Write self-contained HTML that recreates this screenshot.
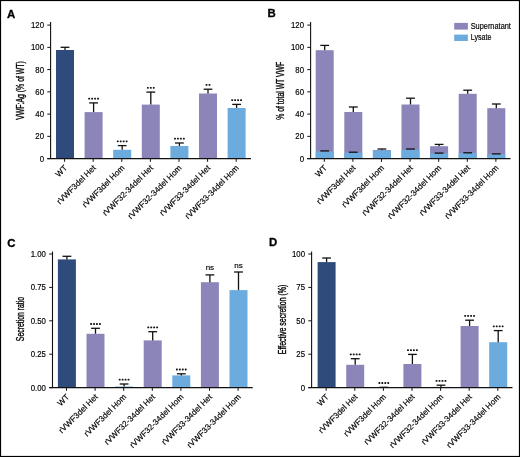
<!DOCTYPE html>
<html><head><meta charset="utf-8"><style>
html,body{margin:0;padding:0;background:#fff;}
body{width:520px;height:457px;overflow:hidden;}
svg{display:block;will-change:transform;}
.t{font-family:"Liberation Sans",sans-serif;fill:#000;stroke:#000;stroke-width:0.17px;}
.t.yl{stroke-width:0.35px;}
.t.lt{stroke-width:0.3px;}
.t.st{stroke-width:0.25px;}
</style></head><body>
<svg width="520" height="457" viewBox="0 0 520 457">
<rect x="0" y="0" width="520" height="457" fill="#fff"/>
<rect x="56.00" y="50.00" width="18.0" height="108.60" fill="#2E4B7C"/>
<line x1="65.00" x2="65.00" y1="47.30" y2="50.00" stroke="#111" stroke-width="1.3"/>
<line x1="60.60" x2="69.40" y1="47.30" y2="47.30" stroke="#111" stroke-width="1.3"/>
<line x1="64.60" x2="64.60" y1="158.60" y2="161.80" stroke="#111" stroke-width="1"/>
<text x="67.80" y="168.40" text-anchor="end" font-size="8.2" class="t" transform="rotate(-45 67.80 168.40)">WT</text>
<rect x="84.60" y="112.10" width="18.0" height="46.50" fill="#8B85BA"/>
<line x1="93.60" x2="93.60" y1="102.90" y2="112.10" stroke="#111" stroke-width="1.3"/>
<line x1="89.20" x2="98.00" y1="102.90" y2="102.90" stroke="#111" stroke-width="1.3"/>
<rect x="88.22" y="97.70" width="1.9" height="1.8" rx="0.6" fill="#111"/>
<rect x="91.17" y="97.70" width="1.9" height="1.8" rx="0.6" fill="#111"/>
<rect x="94.12" y="97.70" width="1.9" height="1.8" rx="0.6" fill="#111"/>
<rect x="97.07" y="97.70" width="1.9" height="1.8" rx="0.6" fill="#111"/>
<line x1="93.20" x2="93.20" y1="158.60" y2="161.80" stroke="#111" stroke-width="1"/>
<text x="96.40" y="168.40" text-anchor="end" font-size="8.2" class="t" transform="rotate(-45 96.40 168.40)">rVWF3del Het</text>
<rect x="113.20" y="149.80" width="18.0" height="8.80" fill="#6BABDE"/>
<line x1="122.20" x2="122.20" y1="145.60" y2="149.80" stroke="#111" stroke-width="1.3"/>
<line x1="117.80" x2="126.60" y1="145.60" y2="145.60" stroke="#111" stroke-width="1.3"/>
<rect x="116.83" y="140.40" width="1.9" height="1.8" rx="0.6" fill="#111"/>
<rect x="119.78" y="140.40" width="1.9" height="1.8" rx="0.6" fill="#111"/>
<rect x="122.72" y="140.40" width="1.9" height="1.8" rx="0.6" fill="#111"/>
<rect x="125.67" y="140.40" width="1.9" height="1.8" rx="0.6" fill="#111"/>
<line x1="121.80" x2="121.80" y1="158.60" y2="161.80" stroke="#111" stroke-width="1"/>
<text x="125.00" y="168.40" text-anchor="end" font-size="8.2" class="t" transform="rotate(-45 125.00 168.40)">rVWF3del Hom</text>
<rect x="141.80" y="104.60" width="18.0" height="54.00" fill="#8B85BA"/>
<line x1="150.80" x2="150.80" y1="92.10" y2="104.60" stroke="#111" stroke-width="1.3"/>
<line x1="146.40" x2="155.20" y1="92.10" y2="92.10" stroke="#111" stroke-width="1.3"/>
<rect x="146.90" y="86.90" width="1.9" height="1.8" rx="0.6" fill="#111"/>
<rect x="149.85" y="86.90" width="1.9" height="1.8" rx="0.6" fill="#111"/>
<rect x="152.80" y="86.90" width="1.9" height="1.8" rx="0.6" fill="#111"/>
<line x1="150.40" x2="150.40" y1="158.60" y2="161.80" stroke="#111" stroke-width="1"/>
<text x="153.60" y="168.40" text-anchor="end" font-size="8.2" class="t" transform="rotate(-45 153.60 168.40)">rVWF32-34del Het</text>
<rect x="170.40" y="146.00" width="18.0" height="12.60" fill="#6BABDE"/>
<line x1="179.40" x2="179.40" y1="143.00" y2="146.00" stroke="#111" stroke-width="1.3"/>
<line x1="175.00" x2="183.80" y1="143.00" y2="143.00" stroke="#111" stroke-width="1.3"/>
<rect x="174.03" y="137.80" width="1.9" height="1.8" rx="0.6" fill="#111"/>
<rect x="176.98" y="137.80" width="1.9" height="1.8" rx="0.6" fill="#111"/>
<rect x="179.93" y="137.80" width="1.9" height="1.8" rx="0.6" fill="#111"/>
<rect x="182.88" y="137.80" width="1.9" height="1.8" rx="0.6" fill="#111"/>
<line x1="179.00" x2="179.00" y1="158.60" y2="161.80" stroke="#111" stroke-width="1"/>
<text x="182.20" y="168.40" text-anchor="end" font-size="8.2" class="t" transform="rotate(-45 182.20 168.40)">rVWF32-34del Hom</text>
<rect x="199.00" y="93.50" width="18.0" height="65.10" fill="#8B85BA"/>
<line x1="208.00" x2="208.00" y1="89.20" y2="93.50" stroke="#111" stroke-width="1.3"/>
<line x1="203.60" x2="212.40" y1="89.20" y2="89.20" stroke="#111" stroke-width="1.3"/>
<rect x="205.58" y="84.00" width="1.9" height="1.8" rx="0.6" fill="#111"/>
<rect x="208.53" y="84.00" width="1.9" height="1.8" rx="0.6" fill="#111"/>
<line x1="207.60" x2="207.60" y1="158.60" y2="161.80" stroke="#111" stroke-width="1"/>
<text x="210.80" y="168.40" text-anchor="end" font-size="8.2" class="t" transform="rotate(-45 210.80 168.40)">rVWF33-34del Het</text>
<rect x="227.60" y="108.00" width="18.0" height="50.60" fill="#6BABDE"/>
<line x1="236.60" x2="236.60" y1="104.40" y2="108.00" stroke="#111" stroke-width="1.3"/>
<line x1="232.20" x2="241.00" y1="104.40" y2="104.40" stroke="#111" stroke-width="1.3"/>
<rect x="231.23" y="99.20" width="1.9" height="1.8" rx="0.6" fill="#111"/>
<rect x="234.18" y="99.20" width="1.9" height="1.8" rx="0.6" fill="#111"/>
<rect x="237.13" y="99.20" width="1.9" height="1.8" rx="0.6" fill="#111"/>
<rect x="240.08" y="99.20" width="1.9" height="1.8" rx="0.6" fill="#111"/>
<line x1="236.20" x2="236.20" y1="158.60" y2="161.80" stroke="#111" stroke-width="1"/>
<text x="239.40" y="168.40" text-anchor="end" font-size="8.2" class="t" transform="rotate(-45 239.40 168.40)">rVWF33-34del Hom</text>
<line x1="50.6" x2="50.6" y1="22" y2="159.1" stroke="#111" stroke-width="1.1"/>
<line x1="47.300000000000004" x2="251" y1="158.6" y2="158.6" stroke="#111" stroke-width="1.1"/>
<line x1="47.300000000000004" x2="50.6" y1="158.60" y2="158.60" stroke="#111" stroke-width="1"/>
<text x="0" y="0" text-anchor="end" font-size="8.5" class="t" transform="translate(44.00 161.60) scale(0.92 1)">0</text>
<line x1="47.300000000000004" x2="50.6" y1="136.35" y2="136.35" stroke="#111" stroke-width="1"/>
<text x="0" y="0" text-anchor="end" font-size="8.5" class="t" transform="translate(44.00 139.35) scale(0.92 1)">20</text>
<line x1="47.300000000000004" x2="50.6" y1="114.10" y2="114.10" stroke="#111" stroke-width="1"/>
<text x="0" y="0" text-anchor="end" font-size="8.5" class="t" transform="translate(44.00 117.10) scale(0.92 1)">40</text>
<line x1="47.300000000000004" x2="50.6" y1="91.85" y2="91.85" stroke="#111" stroke-width="1"/>
<text x="0" y="0" text-anchor="end" font-size="8.5" class="t" transform="translate(44.00 94.85) scale(0.92 1)">60</text>
<line x1="47.300000000000004" x2="50.6" y1="69.60" y2="69.60" stroke="#111" stroke-width="1"/>
<text x="0" y="0" text-anchor="end" font-size="8.5" class="t" transform="translate(44.00 72.60) scale(0.92 1)">80</text>
<line x1="47.300000000000004" x2="50.6" y1="47.35" y2="47.35" stroke="#111" stroke-width="1"/>
<text x="0" y="0" text-anchor="end" font-size="8.5" class="t" transform="translate(44.00 50.35) scale(0.92 1)">100</text>
<line x1="47.300000000000004" x2="50.6" y1="25.10" y2="25.10" stroke="#111" stroke-width="1"/>
<text x="0" y="0" text-anchor="end" font-size="8.5" class="t" transform="translate(44.00 28.10) scale(0.92 1)">120</text>
<text x="0" y="0" text-anchor="middle" font-size="10.1" class="t yl" transform="translate(24.00 90.50) rotate(-90) scale(0.6849 1)">VWF:Ag (% of WT)</text>
<text x="7.0" y="17.60" font-size="11.4" font-weight="bold" class="t lt">A</text>
<rect x="315.70" y="50.20" width="18.0" height="108.40" fill="#8B85BA"/>
<rect x="315.70" y="151.50" width="18.0" height="7.10" fill="#6BABDE"/>
<line x1="320.30" x2="329.10" y1="150.90" y2="150.90" stroke="#111" stroke-width="1.3"/>
<line x1="324.70" x2="324.70" y1="45.40" y2="50.20" stroke="#111" stroke-width="1.3"/>
<line x1="320.30" x2="329.10" y1="45.40" y2="45.40" stroke="#111" stroke-width="1.3"/>
<line x1="324.30" x2="324.30" y1="158.60" y2="161.80" stroke="#111" stroke-width="1"/>
<text x="327.50" y="168.40" text-anchor="end" font-size="8.2" class="t" transform="rotate(-45 327.50 168.40)">WT</text>
<rect x="344.30" y="112.00" width="18.0" height="46.60" fill="#8B85BA"/>
<rect x="344.30" y="152.50" width="18.0" height="6.10" fill="#6BABDE"/>
<line x1="348.90" x2="357.70" y1="152.20" y2="152.20" stroke="#111" stroke-width="1.3"/>
<line x1="353.30" x2="353.30" y1="107.00" y2="112.00" stroke="#111" stroke-width="1.3"/>
<line x1="348.90" x2="357.70" y1="107.00" y2="107.00" stroke="#111" stroke-width="1.3"/>
<line x1="352.90" x2="352.90" y1="158.60" y2="161.80" stroke="#111" stroke-width="1"/>
<text x="356.10" y="168.40" text-anchor="end" font-size="8.2" class="t" transform="rotate(-45 356.10 168.40)">rVWF3del Het</text>
<rect x="372.90" y="150.10" width="18.0" height="8.50" fill="#8B85BA"/>
<rect x="372.90" y="150.60" width="18.0" height="8.00" fill="#6BABDE"/>
<line x1="381.90" x2="381.90" y1="149.00" y2="150.10" stroke="#111" stroke-width="1.3"/>
<line x1="377.50" x2="386.30" y1="149.00" y2="149.00" stroke="#111" stroke-width="1.3"/>
<line x1="381.50" x2="381.50" y1="158.60" y2="161.80" stroke="#111" stroke-width="1"/>
<text x="384.70" y="168.40" text-anchor="end" font-size="8.2" class="t" transform="rotate(-45 384.70 168.40)">rVWF3del Hom</text>
<rect x="401.50" y="104.50" width="18.0" height="54.10" fill="#8B85BA"/>
<rect x="401.50" y="149.70" width="18.0" height="8.90" fill="#6BABDE"/>
<line x1="406.10" x2="414.90" y1="149.00" y2="149.00" stroke="#111" stroke-width="1.3"/>
<line x1="410.50" x2="410.50" y1="98.20" y2="104.50" stroke="#111" stroke-width="1.3"/>
<line x1="406.10" x2="414.90" y1="98.20" y2="98.20" stroke="#111" stroke-width="1.3"/>
<line x1="410.10" x2="410.10" y1="158.60" y2="161.80" stroke="#111" stroke-width="1"/>
<text x="413.30" y="168.40" text-anchor="end" font-size="8.2" class="t" transform="rotate(-45 413.30 168.40)">rVWF32-34del Het</text>
<rect x="430.10" y="146.20" width="18.0" height="12.40" fill="#8B85BA"/>
<rect x="430.10" y="153.40" width="18.0" height="5.20" fill="#6BABDE"/>
<line x1="434.70" x2="443.50" y1="153.10" y2="153.10" stroke="#111" stroke-width="1.3"/>
<line x1="439.10" x2="439.10" y1="144.40" y2="146.20" stroke="#111" stroke-width="1.3"/>
<line x1="434.70" x2="443.50" y1="144.40" y2="144.40" stroke="#111" stroke-width="1.3"/>
<line x1="438.70" x2="438.70" y1="158.60" y2="161.80" stroke="#111" stroke-width="1"/>
<text x="441.90" y="168.40" text-anchor="end" font-size="8.2" class="t" transform="rotate(-45 441.90 168.40)">rVWF32-34del Hom</text>
<rect x="458.70" y="93.80" width="18.0" height="64.80" fill="#8B85BA"/>
<rect x="458.70" y="153.00" width="18.0" height="5.60" fill="#6BABDE"/>
<line x1="463.30" x2="472.10" y1="152.80" y2="152.80" stroke="#111" stroke-width="1.3"/>
<line x1="467.70" x2="467.70" y1="90.20" y2="93.80" stroke="#111" stroke-width="1.3"/>
<line x1="463.30" x2="472.10" y1="90.20" y2="90.20" stroke="#111" stroke-width="1.3"/>
<line x1="467.30" x2="467.30" y1="158.60" y2="161.80" stroke="#111" stroke-width="1"/>
<text x="470.50" y="168.40" text-anchor="end" font-size="8.2" class="t" transform="rotate(-45 470.50 168.40)">rVWF33-34del Het</text>
<rect x="487.30" y="108.20" width="18.0" height="50.40" fill="#8B85BA"/>
<rect x="487.30" y="154.30" width="18.0" height="4.30" fill="#6BABDE"/>
<line x1="491.90" x2="500.70" y1="153.90" y2="153.90" stroke="#111" stroke-width="1.3"/>
<line x1="496.30" x2="496.30" y1="104.00" y2="108.20" stroke="#111" stroke-width="1.3"/>
<line x1="491.90" x2="500.70" y1="104.00" y2="104.00" stroke="#111" stroke-width="1.3"/>
<line x1="495.90" x2="495.90" y1="158.60" y2="161.80" stroke="#111" stroke-width="1"/>
<text x="499.10" y="168.40" text-anchor="end" font-size="8.2" class="t" transform="rotate(-45 499.10 168.40)">rVWF33-34del Hom</text>
<line x1="310.6" x2="310.6" y1="22" y2="159.1" stroke="#111" stroke-width="1.1"/>
<line x1="307.3" x2="510.5" y1="158.6" y2="158.6" stroke="#111" stroke-width="1.1"/>
<line x1="307.3" x2="310.6" y1="158.60" y2="158.60" stroke="#111" stroke-width="1"/>
<text x="0" y="0" text-anchor="end" font-size="8.5" class="t" transform="translate(304.00 161.60) scale(0.92 1)">0</text>
<line x1="307.3" x2="310.6" y1="136.35" y2="136.35" stroke="#111" stroke-width="1"/>
<text x="0" y="0" text-anchor="end" font-size="8.5" class="t" transform="translate(304.00 139.35) scale(0.92 1)">20</text>
<line x1="307.3" x2="310.6" y1="114.10" y2="114.10" stroke="#111" stroke-width="1"/>
<text x="0" y="0" text-anchor="end" font-size="8.5" class="t" transform="translate(304.00 117.10) scale(0.92 1)">40</text>
<line x1="307.3" x2="310.6" y1="91.85" y2="91.85" stroke="#111" stroke-width="1"/>
<text x="0" y="0" text-anchor="end" font-size="8.5" class="t" transform="translate(304.00 94.85) scale(0.92 1)">60</text>
<line x1="307.3" x2="310.6" y1="69.60" y2="69.60" stroke="#111" stroke-width="1"/>
<text x="0" y="0" text-anchor="end" font-size="8.5" class="t" transform="translate(304.00 72.60) scale(0.92 1)">80</text>
<line x1="307.3" x2="310.6" y1="47.35" y2="47.35" stroke="#111" stroke-width="1"/>
<text x="0" y="0" text-anchor="end" font-size="8.5" class="t" transform="translate(304.00 50.35) scale(0.92 1)">100</text>
<line x1="307.3" x2="310.6" y1="25.10" y2="25.10" stroke="#111" stroke-width="1"/>
<text x="0" y="0" text-anchor="end" font-size="8.5" class="t" transform="translate(304.00 28.10) scale(0.92 1)">120</text>
<text x="0" y="0" text-anchor="middle" font-size="10.1" class="t yl" transform="translate(284.00 90.75) rotate(-90) scale(0.6781 1)">% of total WT VWF</text>
<text x="267.4" y="17.20" font-size="11.4" font-weight="bold" class="t lt">B</text>
<rect x="57.90" y="259.40" width="18.0" height="128.20" fill="#2E4B7C"/>
<line x1="66.90" x2="66.90" y1="256.30" y2="259.40" stroke="#111" stroke-width="1.3"/>
<line x1="62.50" x2="71.30" y1="256.30" y2="256.30" stroke="#111" stroke-width="1.3"/>
<line x1="66.50" x2="66.50" y1="387.60" y2="390.80" stroke="#111" stroke-width="1"/>
<text x="69.70" y="397.40" text-anchor="end" font-size="8.2" class="t" transform="rotate(-45 69.70 397.40)">WT</text>
<rect x="86.50" y="333.80" width="18.0" height="53.80" fill="#8B85BA"/>
<line x1="95.50" x2="95.50" y1="328.30" y2="333.80" stroke="#111" stroke-width="1.3"/>
<line x1="91.10" x2="99.90" y1="328.30" y2="328.30" stroke="#111" stroke-width="1.3"/>
<rect x="90.12" y="323.10" width="1.9" height="1.8" rx="0.6" fill="#111"/>
<rect x="93.08" y="323.10" width="1.9" height="1.8" rx="0.6" fill="#111"/>
<rect x="96.02" y="323.10" width="1.9" height="1.8" rx="0.6" fill="#111"/>
<rect x="98.97" y="323.10" width="1.9" height="1.8" rx="0.6" fill="#111"/>
<line x1="95.10" x2="95.10" y1="387.60" y2="390.80" stroke="#111" stroke-width="1"/>
<text x="98.30" y="397.40" text-anchor="end" font-size="8.2" class="t" transform="rotate(-45 98.30 397.40)">rVWF3del Het</text>
<rect x="115.10" y="386.50" width="18.0" height="1.10" fill="#6BABDE"/>
<line x1="124.10" x2="124.10" y1="384.00" y2="386.50" stroke="#111" stroke-width="1.3"/>
<line x1="119.70" x2="128.50" y1="384.00" y2="384.00" stroke="#111" stroke-width="1.3"/>
<rect x="118.73" y="378.80" width="1.9" height="1.8" rx="0.6" fill="#111"/>
<rect x="121.68" y="378.80" width="1.9" height="1.8" rx="0.6" fill="#111"/>
<rect x="124.62" y="378.80" width="1.9" height="1.8" rx="0.6" fill="#111"/>
<rect x="127.58" y="378.80" width="1.9" height="1.8" rx="0.6" fill="#111"/>
<line x1="123.70" x2="123.70" y1="387.60" y2="390.80" stroke="#111" stroke-width="1"/>
<text x="126.90" y="397.40" text-anchor="end" font-size="8.2" class="t" transform="rotate(-45 126.90 397.40)">rVWF3del Hom</text>
<rect x="143.70" y="340.40" width="18.0" height="47.20" fill="#8B85BA"/>
<line x1="152.70" x2="152.70" y1="331.70" y2="340.40" stroke="#111" stroke-width="1.3"/>
<line x1="148.30" x2="157.10" y1="331.70" y2="331.70" stroke="#111" stroke-width="1.3"/>
<rect x="147.33" y="326.50" width="1.9" height="1.8" rx="0.6" fill="#111"/>
<rect x="150.28" y="326.50" width="1.9" height="1.8" rx="0.6" fill="#111"/>
<rect x="153.23" y="326.50" width="1.9" height="1.8" rx="0.6" fill="#111"/>
<rect x="156.18" y="326.50" width="1.9" height="1.8" rx="0.6" fill="#111"/>
<line x1="152.30" x2="152.30" y1="387.60" y2="390.80" stroke="#111" stroke-width="1"/>
<text x="155.50" y="397.40" text-anchor="end" font-size="8.2" class="t" transform="rotate(-45 155.50 397.40)">rVWF32-34del Het</text>
<rect x="172.30" y="375.40" width="18.0" height="12.20" fill="#6BABDE"/>
<line x1="181.30" x2="181.30" y1="373.80" y2="375.40" stroke="#111" stroke-width="1.3"/>
<line x1="176.90" x2="185.70" y1="373.80" y2="373.80" stroke="#111" stroke-width="1.3"/>
<rect x="175.93" y="368.60" width="1.9" height="1.8" rx="0.6" fill="#111"/>
<rect x="178.88" y="368.60" width="1.9" height="1.8" rx="0.6" fill="#111"/>
<rect x="181.83" y="368.60" width="1.9" height="1.8" rx="0.6" fill="#111"/>
<rect x="184.78" y="368.60" width="1.9" height="1.8" rx="0.6" fill="#111"/>
<line x1="180.90" x2="180.90" y1="387.60" y2="390.80" stroke="#111" stroke-width="1"/>
<text x="184.10" y="397.40" text-anchor="end" font-size="8.2" class="t" transform="rotate(-45 184.10 397.40)">rVWF32-34del Hom</text>
<rect x="200.90" y="282.20" width="18.0" height="105.40" fill="#8B85BA"/>
<line x1="209.90" x2="209.90" y1="274.90" y2="282.20" stroke="#111" stroke-width="1.3"/>
<line x1="205.50" x2="214.30" y1="274.90" y2="274.90" stroke="#111" stroke-width="1.3"/>
<text x="209.90" y="270.40" text-anchor="middle" font-size="8" class="t">ns</text>
<line x1="209.50" x2="209.50" y1="387.60" y2="390.80" stroke="#111" stroke-width="1"/>
<text x="212.70" y="397.40" text-anchor="end" font-size="8.2" class="t" transform="rotate(-45 212.70 397.40)">rVWF33-34del Het</text>
<rect x="229.50" y="290.10" width="18.0" height="97.50" fill="#6BABDE"/>
<line x1="238.50" x2="238.50" y1="272.00" y2="290.10" stroke="#111" stroke-width="1.3"/>
<line x1="234.10" x2="242.90" y1="272.00" y2="272.00" stroke="#111" stroke-width="1.3"/>
<text x="238.50" y="267.70" text-anchor="middle" font-size="8" class="t">ns</text>
<line x1="238.10" x2="238.10" y1="387.60" y2="390.80" stroke="#111" stroke-width="1"/>
<text x="241.30" y="397.40" text-anchor="end" font-size="8.2" class="t" transform="rotate(-45 241.30 397.40)">rVWF33-34del Hom</text>
<line x1="52.5" x2="52.5" y1="251.5" y2="388.1" stroke="#111" stroke-width="1.1"/>
<line x1="49.2" x2="252.7" y1="387.6" y2="387.6" stroke="#111" stroke-width="1.1"/>
<line x1="49.2" x2="52.5" y1="387.60" y2="387.60" stroke="#111" stroke-width="1"/>
<text x="0" y="0" text-anchor="end" font-size="8.5" class="t" transform="translate(45.90 390.60) scale(0.92 1)">0.00</text>
<line x1="49.2" x2="52.5" y1="354.20" y2="354.20" stroke="#111" stroke-width="1"/>
<text x="0" y="0" text-anchor="end" font-size="8.5" class="t" transform="translate(45.90 357.20) scale(0.92 1)">0.25</text>
<line x1="49.2" x2="52.5" y1="320.80" y2="320.80" stroke="#111" stroke-width="1"/>
<text x="0" y="0" text-anchor="end" font-size="8.5" class="t" transform="translate(45.90 323.80) scale(0.92 1)">0.50</text>
<line x1="49.2" x2="52.5" y1="287.40" y2="287.40" stroke="#111" stroke-width="1"/>
<text x="0" y="0" text-anchor="end" font-size="8.5" class="t" transform="translate(45.90 290.40) scale(0.92 1)">0.75</text>
<line x1="49.2" x2="52.5" y1="254.00" y2="254.00" stroke="#111" stroke-width="1"/>
<text x="0" y="0" text-anchor="end" font-size="8.5" class="t" transform="translate(45.90 257.00) scale(0.92 1)">1.00</text>
<text x="0" y="0" text-anchor="middle" font-size="10.1" class="t yl" transform="translate(24.20 319.05) rotate(-90) scale(0.6803 1)">Secretion ratio</text>
<text x="7.3" y="247.20" font-size="11.4" font-weight="bold" class="t lt">C</text>
<rect x="317.60" y="262.10" width="18.0" height="125.50" fill="#2E4B7C"/>
<line x1="326.60" x2="326.60" y1="258.00" y2="262.10" stroke="#111" stroke-width="1.3"/>
<line x1="322.20" x2="331.00" y1="258.00" y2="258.00" stroke="#111" stroke-width="1.3"/>
<line x1="326.20" x2="326.20" y1="387.60" y2="390.80" stroke="#111" stroke-width="1"/>
<text x="329.40" y="397.40" text-anchor="end" font-size="8.2" class="t" transform="rotate(-45 329.40 397.40)">WT</text>
<rect x="346.20" y="364.80" width="18.0" height="22.80" fill="#8B85BA"/>
<line x1="355.20" x2="355.20" y1="358.70" y2="364.80" stroke="#111" stroke-width="1.3"/>
<line x1="350.80" x2="359.60" y1="358.70" y2="358.70" stroke="#111" stroke-width="1.3"/>
<rect x="349.83" y="353.50" width="1.9" height="1.8" rx="0.6" fill="#111"/>
<rect x="352.78" y="353.50" width="1.9" height="1.8" rx="0.6" fill="#111"/>
<rect x="355.73" y="353.50" width="1.9" height="1.8" rx="0.6" fill="#111"/>
<rect x="358.68" y="353.50" width="1.9" height="1.8" rx="0.6" fill="#111"/>
<line x1="354.80" x2="354.80" y1="387.60" y2="390.80" stroke="#111" stroke-width="1"/>
<text x="358.00" y="397.40" text-anchor="end" font-size="8.2" class="t" transform="rotate(-45 358.00 397.40)">rVWF3del Het</text>
<line x1="383.80" x2="383.80" y1="387.30" y2="387.60" stroke="#111" stroke-width="1.3"/>
<line x1="379.40" x2="388.20" y1="387.30" y2="387.30" stroke="#111" stroke-width="1.3"/>
<rect x="378.43" y="382.10" width="1.9" height="1.8" rx="0.6" fill="#111"/>
<rect x="381.38" y="382.10" width="1.9" height="1.8" rx="0.6" fill="#111"/>
<rect x="384.33" y="382.10" width="1.9" height="1.8" rx="0.6" fill="#111"/>
<rect x="387.28" y="382.10" width="1.9" height="1.8" rx="0.6" fill="#111"/>
<line x1="383.40" x2="383.40" y1="387.60" y2="390.80" stroke="#111" stroke-width="1"/>
<text x="386.60" y="397.40" text-anchor="end" font-size="8.2" class="t" transform="rotate(-45 386.60 397.40)">rVWF3del Hom</text>
<rect x="403.40" y="364.00" width="18.0" height="23.60" fill="#8B85BA"/>
<line x1="412.40" x2="412.40" y1="354.40" y2="364.00" stroke="#111" stroke-width="1.3"/>
<line x1="408.00" x2="416.80" y1="354.40" y2="354.40" stroke="#111" stroke-width="1.3"/>
<rect x="407.03" y="349.20" width="1.9" height="1.8" rx="0.6" fill="#111"/>
<rect x="409.98" y="349.20" width="1.9" height="1.8" rx="0.6" fill="#111"/>
<rect x="412.93" y="349.20" width="1.9" height="1.8" rx="0.6" fill="#111"/>
<rect x="415.88" y="349.20" width="1.9" height="1.8" rx="0.6" fill="#111"/>
<line x1="412.00" x2="412.00" y1="387.60" y2="390.80" stroke="#111" stroke-width="1"/>
<text x="415.20" y="397.40" text-anchor="end" font-size="8.2" class="t" transform="rotate(-45 415.20 397.40)">rVWF32-34del Het</text>
<rect x="432.00" y="386.90" width="18.0" height="0.70" fill="#6BABDE"/>
<line x1="441.00" x2="441.00" y1="385.20" y2="386.90" stroke="#111" stroke-width="1.3"/>
<line x1="436.60" x2="445.40" y1="385.20" y2="385.20" stroke="#111" stroke-width="1.3"/>
<rect x="435.62" y="380.00" width="1.9" height="1.8" rx="0.6" fill="#111"/>
<rect x="438.57" y="380.00" width="1.9" height="1.8" rx="0.6" fill="#111"/>
<rect x="441.53" y="380.00" width="1.9" height="1.8" rx="0.6" fill="#111"/>
<rect x="444.48" y="380.00" width="1.9" height="1.8" rx="0.6" fill="#111"/>
<line x1="440.60" x2="440.60" y1="387.60" y2="390.80" stroke="#111" stroke-width="1"/>
<text x="443.80" y="397.40" text-anchor="end" font-size="8.2" class="t" transform="rotate(-45 443.80 397.40)">rVWF32-34del Hom</text>
<rect x="460.60" y="326.00" width="18.0" height="61.60" fill="#8B85BA"/>
<line x1="469.60" x2="469.60" y1="320.20" y2="326.00" stroke="#111" stroke-width="1.3"/>
<line x1="465.20" x2="474.00" y1="320.20" y2="320.20" stroke="#111" stroke-width="1.3"/>
<rect x="464.23" y="315.00" width="1.9" height="1.8" rx="0.6" fill="#111"/>
<rect x="467.18" y="315.00" width="1.9" height="1.8" rx="0.6" fill="#111"/>
<rect x="470.13" y="315.00" width="1.9" height="1.8" rx="0.6" fill="#111"/>
<rect x="473.08" y="315.00" width="1.9" height="1.8" rx="0.6" fill="#111"/>
<line x1="469.20" x2="469.20" y1="387.60" y2="390.80" stroke="#111" stroke-width="1"/>
<text x="472.40" y="397.40" text-anchor="end" font-size="8.2" class="t" transform="rotate(-45 472.40 397.40)">rVWF33-34del Het</text>
<rect x="489.20" y="342.20" width="18.0" height="45.40" fill="#6BABDE"/>
<line x1="498.20" x2="498.20" y1="330.60" y2="342.20" stroke="#111" stroke-width="1.3"/>
<line x1="493.80" x2="502.60" y1="330.60" y2="330.60" stroke="#111" stroke-width="1.3"/>
<rect x="492.83" y="325.40" width="1.9" height="1.8" rx="0.6" fill="#111"/>
<rect x="495.78" y="325.40" width="1.9" height="1.8" rx="0.6" fill="#111"/>
<rect x="498.73" y="325.40" width="1.9" height="1.8" rx="0.6" fill="#111"/>
<rect x="501.68" y="325.40" width="1.9" height="1.8" rx="0.6" fill="#111"/>
<line x1="497.80" x2="497.80" y1="387.60" y2="390.80" stroke="#111" stroke-width="1"/>
<text x="501.00" y="397.40" text-anchor="end" font-size="8.2" class="t" transform="rotate(-45 501.00 397.40)">rVWF33-34del Hom</text>
<line x1="311.6" x2="311.6" y1="251.5" y2="388.1" stroke="#111" stroke-width="1.1"/>
<line x1="308.3" x2="512.5" y1="387.6" y2="387.6" stroke="#111" stroke-width="1.1"/>
<line x1="308.3" x2="311.6" y1="387.60" y2="387.60" stroke="#111" stroke-width="1"/>
<text x="0" y="0" text-anchor="end" font-size="8.5" class="t" transform="translate(305.00 390.60) scale(0.92 1)">0</text>
<line x1="308.3" x2="311.6" y1="354.20" y2="354.20" stroke="#111" stroke-width="1"/>
<text x="0" y="0" text-anchor="end" font-size="8.5" class="t" transform="translate(305.00 357.20) scale(0.92 1)">25</text>
<line x1="308.3" x2="311.6" y1="320.80" y2="320.80" stroke="#111" stroke-width="1"/>
<text x="0" y="0" text-anchor="end" font-size="8.5" class="t" transform="translate(305.00 323.80) scale(0.92 1)">50</text>
<line x1="308.3" x2="311.6" y1="287.40" y2="287.40" stroke="#111" stroke-width="1"/>
<text x="0" y="0" text-anchor="end" font-size="8.5" class="t" transform="translate(305.00 290.40) scale(0.92 1)">75</text>
<line x1="308.3" x2="311.6" y1="254.00" y2="254.00" stroke="#111" stroke-width="1"/>
<text x="0" y="0" text-anchor="end" font-size="8.5" class="t" transform="translate(305.00 257.00) scale(0.92 1)">100</text>
<text x="0" y="0" text-anchor="middle" font-size="10.1" class="t yl" transform="translate(285.60 319.45) rotate(-90) scale(0.6911 1)">Effective secretion (%)</text>
<text x="268.9" y="246.20" font-size="11.4" font-weight="bold" class="t lt">D</text>
<rect x="454.2" y="22.9" width="13.7" height="6.7" fill="#8B85BA"/>
<rect x="454.2" y="34.6" width="13.7" height="6.4" fill="#6BABDE"/>
<text x="470.7" y="29.0" font-size="8.3" class="t" textLength="40.2" lengthAdjust="spacingAndGlyphs">Supernatant</text>
<text x="470.7" y="40.4" font-size="8.3" class="t" textLength="20.8" lengthAdjust="spacingAndGlyphs">Lysate</text>
<rect x="0.5" y="0.5" width="519" height="456" fill="none" stroke="#000" stroke-width="1.2"/>
</svg>
</body></html>
